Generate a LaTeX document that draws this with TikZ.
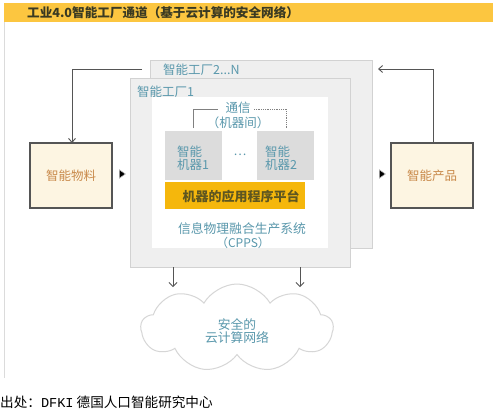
\documentclass[tikz,border=0pt]{standalone}
\usepackage{fontspec}
\setmainfont{Noto Sans CJK SC}
\newfontfamily\monofont{Liberation Mono}
\usetikzlibrary{shapes.symbols,shapes.geometric,arrows.meta}
\definecolor{titlebar}{HTML}{FCC640}
\definecolor{titletext}{HTML}{3A3A22}
\definecolor{teal}{HTML}{5A98AC}
\definecolor{orangetext}{HTML}{C98A4B}
\definecolor{cream}{HTML}{FDF5E2}
\definecolor{boxgray}{HTML}{EFEFEF}
\definecolor{boxedge}{HTML}{D2D2D2}
\definecolor{machgray}{HTML}{DCDCDC}
\definecolor{platform}{HTML}{F5B70C}
\definecolor{platformtext}{HTML}{5E5620}
\definecolor{linegray}{HTML}{555555}
\definecolor{cloudedge}{HTML}{D6D6D6}
\tikzset{
  fsz/.style={font=\fontsize{#1}{#1}\selectfont},
  boxat/.style={anchor=north west, inner sep=0pt, outer sep=0pt},
  factorybox/.style={boxat, draw=boxedge, fill=boxgray, line width=1pt},
  sidebox/.style={boxat, draw=linegray, fill=cream, line width=1.3pt,
    minimum width=82pt, minimum height=65pt},
  machbox/.style={boxat, fill=machgray, minimum width=57pt, minimum height=49pt},
  feed/.style={draw=linegray, line width=0.9pt, -{Straight Barb[length=4pt,width=7pt]}},
  down/.style={draw=linegray, line width=0.8pt, -{Straight Barb[length=4pt,width=8pt]}},
  tri/.style={isosceles triangle, isosceles triangle apex angle=70, fill=black,
    draw=gray!60, line width=0.6pt, inner sep=0pt, minimum height=6pt, minimum width=7pt},
  labeltext/.style={anchor=west, inner sep=0pt, text=teal, fsz=12.5},
}
\begin{document}
\begin{tikzpicture}[x=1pt,y=-1pt]
\useasboundingbox (0,0) rectangle (493,410);
\fill[white] (0,0) rectangle (493,410);
% outer frame left line
\draw[draw=boxedge!80, line width=0.8pt] (4,22) -- (4,378);
% title
\node[boxat, fill=titlebar, minimum width=489pt, minimum height=19pt] (title) at (4,3) {};
\node[anchor=west, inner sep=0pt, text=titletext, font=\bfseries\fontsize{12.6}{13}\selectfont] (titletxt) at (27,12.5) {工业4.0智能工厂通道（基于云计算的安全网络）};
% back factory
\node[factorybox, minimum width=222pt, minimum height=188pt] (back) at (150,60) {};
\node[labeltext] (backlbl) at (163,70) {智能工厂2...N};
% front factory
\node[factorybox, minimum width=220pt, minimum height=189pt] (front) at (130,78) {};
\node[labeltext] (frontlbl) at (137,92) {智能工厂1};
% inner panel
\node[boxat, fill=white, minimum width=176pt, minimum height=151pt] (inner) at (152,97) {};
% communication bracket
\node[text=teal, fsz=12.5, inner sep=0pt] (comm1) at (238,108) {通信};
\node[text=teal, fsz=12.5, inner sep=0pt] (comm2) at (238,123) {（机器间）};
\coordinate (bl) at (193,128);
\coordinate (bcl) at (193,109);
\coordinate (bcl2) at (218,109);
\coordinate (bcr2) at (254,109);
\coordinate (bcr) at (286,109);
\coordinate (br) at (286,128);
\draw[draw=gray, line width=0.8pt] (bl) -- (bcl) -- (bcl2);
\draw[draw=gray, line width=0.8pt, densely dotted] (bcr2) -- (bcr) -- (br);
% machines
\node[machbox] (m1) at (165,131) {};
\node[machbox] (m2) at (257,131) {};
\node[text=teal, fsz=12.5, align=left, inner sep=0pt, anchor=west] (m1t) at (177,158) {智能\\[1pt]机器1};
\node[text=teal, fsz=12.5, align=left, inner sep=0pt, anchor=west] (m2t) at (265,158) {智能\\[1pt]机器2};
\node[text=teal, fsz=12, inner sep=0pt] (dots) at (240,155) {…};
% platform
\node[boxat, fill=platform, minimum width=140pt, minimum height=27pt] (plat) at (165,182) {};
\node[text=platformtext, font=\bfseries\fontsize{13}{13}\selectfont, inner sep=0pt] (plattxt) at (241,196) {机器的应用程序平台};
% cpps
\node[text=teal, fsz=12.8, inner sep=0pt] (cpps1) at (242,229) {信息物理融合生产系统};
\node[text=teal, fsz=12, inner sep=0pt] (cpps2) at (243,243) {（CPPS）};
% side boxes
\node[sidebox] (mat) at (30,143) {};
\node[text=orangetext, fsz=12.5, inner sep=0pt] (mattxt) at (mat.center) {智能物料};
\node[sidebox] (prod) at (391,143) {};
\node[text=orangetext, fsz=12.5, inner sep=0pt] (prodtxt) at (prod.center) {智能产品};
% triangles
\node[tri] (triL) at (121.5,174) {};
\node[tri] (triR) at (381.5,174) {};
% feedback lines
\coordinate (lc) at (72,69);
\coordinate (lend) at (142,69);
\draw[draw=linegray, line width=0.9pt] (lend) -- (lc);
\draw[feed] (lc) -- (mat.north -| lc);
\coordinate (rc) at (433,69);
\coordinate (rend) at (378,69);
\draw[draw=linegray, line width=0.9pt] (prod.north -| rc) -- (rc);
\draw[feed] (rc) -- (rend);
% cloud
\node[cloud, cloud puffs=9, cloud puff arc=120, aspect=2.2, draw=cloudedge, fill=white,
  line width=1pt, minimum width=192pt, minimum height=88pt, inner sep=0pt] (cloud) at (237,328) {};
\node[text=teal, fsz=12.8, align=center, inner sep=0pt] (cloudtxt) at (237,331) {安全的\\[1pt]云计算网络};
% down arrows
\coordinate (d1s) at (173,267);
\coordinate (d1e) at (173,287);
\coordinate (d2s) at (300,267);
\coordinate (d2e) at (300,287);
\draw[down] (d1s) -- (d1e);
\draw[down] (d2s) -- (d2e);
% footer
\node[anchor=west, inner sep=0pt, fsz=13.6] (footer) at (0,402) {出处：{\monofont DFKI} 德国人口智能研究中心};
\end{tikzpicture}
\end{document}
